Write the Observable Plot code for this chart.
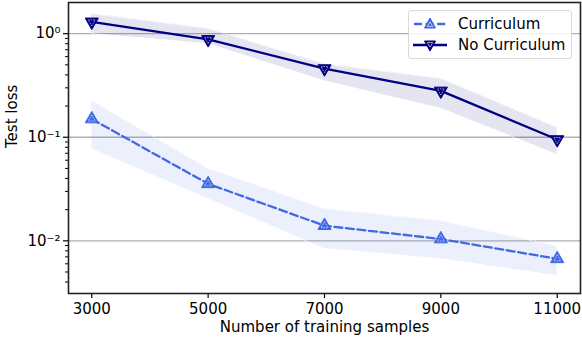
<!DOCTYPE html>
<html>
<head>
<meta charset="utf-8">
<script src="https://cdn.jsdelivr.net/npm/d3@7"></script>
<script src="https://cdn.jsdelivr.net/npm/@observablehq/plot@0.6"></script>
<style>
  body { margin: 0; background: #fff; }
  #wrap { position: relative; width: 582px; height: 342px; font-family: "DejaVu Sans", sans-serif; }
  #legend { position: absolute; left: 408px; top: 10px; width: 164px; height: 49px; box-sizing: border-box;
    border: 1px solid #d9d9d9; border-radius: 3px; background: rgba(255,255,255,0.85); font-size: 15px; }
  .row { position: absolute; left: 4px; height: 20px; display: flex; align-items: center; }
  .row span { margin-left: 11px; color: #000; }
</style>
</head>
<body>
<div id="wrap"></div>
<script>
const samples = [3000, 5000, 7000, 9000, 11000];
const curriculum   = [0.15, 0.0355, 0.014, 0.0104, 0.0067];
const curriculumLo = [0.077, 0.0255, 0.0084, 0.0067, 0.0046];
const curriculumHi = [0.225, 0.05, 0.0204, 0.0156, 0.0089];
const noCurriculum   = [1.3, 0.88, 0.46, 0.28, 0.095];
const noCurriculumLo = [1.0, 0.80, 0.35, 0.19, 0.068];
const noCurriculumHi = [1.56, 1.12, 0.51, 0.37, 0.124];
const xTicks = [3000, 5000, 7000, 9000, 11000];
const yTicks = [1, 0.1, 0.01];
const yTickLabels = ["10\u2070", "10\u207B\u00B9", "10\u207B\u00B2"];
const seriesNames = ["Curriculum", "No Curriculum"];

const cColor = "#4169e1", nColor = "#000080";
const curr = samples.map((x, i) => ({x, y: curriculum[i], lo: curriculumLo[i], hi: curriculumHi[i]}));
const noc = samples.map((x, i) => ({x, y: noCurriculum[i], lo: noCurriculumLo[i], hi: noCurriculumHi[i]}));

const minor = [];
for (let e = -3; e <= 0; e++) for (let k = 2; k <= 9; k++) {
  const v = k * Math.pow(10, e);
  if (v > 0.0031 && v < 2.0) minor.push(v);
}

const triDown = {
  draw(context, size) {
    const y = -Math.sqrt(size / (Math.sqrt(3) * 3));
    context.moveTo(0, -2 * y);
    context.lineTo(-Math.sqrt(3) * y, y);
    context.lineTo(Math.sqrt(3) * y, y);
    context.closePath();
  }
};

const chart = Plot.plot({
  width: 582, height: 342,
  marginLeft: 68, marginRight: 2, marginTop: 2, marginBottom: 49,
  style: {fontFamily: "DejaVu Sans", fontSize: "15px", color: "#000", background: "#fff"},
  x: {type: "linear", domain: [2600, 11400], axis: null},
  y: {type: "log", domain: [0.0031, 2.0], axis: null},
  marks: [
    Plot.gridY(yTicks, {stroke: "#b0b0b0", strokeOpacity: 1, strokeWidth: 1.3}),
    Plot.areaY(curr, {x: "x", y1: "lo", y2: "hi", fill: cColor, fillOpacity: 0.1}),
    Plot.areaY(noc, {x: "x", y1: "lo", y2: "hi", fill: nColor, fillOpacity: 0.1}),
    Plot.lineY(curr, {x: "x", y: "lo", stroke: "white", strokeWidth: 0.7, strokeDasharray: "3,2"}),
    Plot.lineY(curr, {x: "x", y: "hi", stroke: "white", strokeWidth: 0.7, strokeDasharray: "3,2"}),
    Plot.lineY(noc, {x: "x", y: "lo", stroke: "white", strokeWidth: 0.7, strokeDasharray: "3,2"}),
    Plot.lineY(noc, {x: "x", y: "hi", stroke: "white", strokeWidth: 0.7, strokeDasharray: "3,2"}),
    Plot.lineY(curr, {x: "x", y: "y", stroke: cColor, strokeWidth: 2.3, strokeDasharray: "8,3.6"}),
    Plot.lineY(noc, {x: "x", y: "y", stroke: nColor, strokeWidth: 2.3}),
    Plot.dot(curr, {x: "x", y: "y", symbol: "triangle", r: 4.9, fill: cColor, stroke: cColor, strokeWidth: 1}),
    Plot.dot(curr, {x: "x", y: "y", symbol: "triangle", r: 2.6, fill: "none", stroke: "white", strokeWidth: 0.6, strokeDasharray: "1.5,1"}),
    Plot.dot(noc, {x: "x", y: "y", symbol: triDown, r: 4.9, fill: nColor, stroke: nColor, strokeWidth: 1}),
    Plot.dot(noc, {x: "x", y: "y", symbol: triDown, r: 2.6, fill: "none", stroke: "white", strokeWidth: 0.6, strokeDasharray: "1.5,1"}),
    Plot.axisX(xTicks, {tickSize: 5, tickPadding: 5, tickFormat: d3.format("d"), label: null, fontSize: 15, strokeWidth: 1.2}),
    Plot.axisY(yTicks, {tickSize: 5, tickPadding: 3, tickFormat: (d) => yTickLabels[yTicks.indexOf(d)], label: null, fontSize: 15, strokeWidth: 1.2}),
    Plot.axisY(minor, {tickSize: 3, tickFormat: () => "", label: null, strokeWidth: 1}),
    Plot.text(["Number of training samples"], {frameAnchor: "bottom", lineAnchor: "middle", dy: 34, fontSize: 15, fill: "#000"}),
    Plot.text(["Test loss"], {frameAnchor: "left", dx: -56, rotate: -90, fontSize: 15, fill: "#000"}),
    Plot.frame({stroke: "#222", strokeWidth: 1.6})
  ]
});
const wrap = document.getElementById("wrap");
wrap.appendChild(chart);

// legend
const legend = document.createElement("div");
legend.id = "legend";
const specs = [
  {name: seriesNames[0], color: cColor, dash: "8,3.6", up: true},
  {name: seriesNames[1], color: nColor, dash: null, up: false}
];
specs.forEach((s, i) => {
  const row = document.createElement("div");
  row.className = "row";
  row.style.top = (3 + i * 21) + "px";
  const tri = s.up ? "M17,4 L11.5,14 L22.5,14 Z" : "M17,16 L11.5,6 L22.5,6 Z";
  const triIn = s.up ? "M17,8 L14.3,12.5 L19.7,12.5 Z" : "M17,12 L14.3,7.5 L19.7,7.5 Z";
  row.innerHTML = `<svg width="34" height="20"><line x1="0" y1="10" x2="34" y2="10" stroke="${s.color}" stroke-width="2.3" ${s.dash ? `stroke-dasharray="${s.dash}" stroke-dashoffset="-1"` : ""}/><path d="${tri}" fill="${s.color}" stroke="${s.color}"/><path d="${triIn}" fill="none" stroke="white" stroke-width="0.6"/></svg><span>${s.name}</span>`;
  legend.appendChild(row);
});
wrap.appendChild(legend);
</script>
</body>
</html>
